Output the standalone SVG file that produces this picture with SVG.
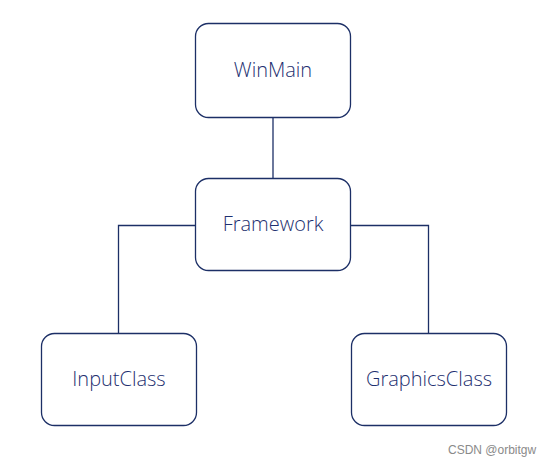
<svg xmlns="http://www.w3.org/2000/svg" width="553" height="467" viewBox="0 0 553 467">
<style>
.box{fill:#fff;stroke:#1c2f66;stroke-width:1.3}
.lbl{font-family:"Open Sans","Noto Sans",sans-serif;font-size:20px;font-weight:300;fill:#1e3070;text-anchor:middle;dominant-baseline:central}
.con{fill:none;stroke:#1c2f66;stroke-width:1.3}
.wm{font-family:"Liberation Sans",sans-serif;font-size:12px;fill:#8a8a8a}
</style>
<rect width="553" height="467" fill="#fff"/>
<g id="connectors">
<line class="con" x1="273" y1="117.5" x2="273" y2="178.5"/>
<polyline class="con" points="195.5,225.5 118.5,225.5 118.5,333.5"/>
<polyline class="con" points="350.5,225.5 428.5,225.5 428.5,333.5"/>
</g>
<g id="WinMain"><rect class="box" x="195.5" y="23.5" width="155" height="94" rx="13"/><text class="lbl" x="273" y="69">WinMain</text></g>
<g id="Framework"><rect class="box" x="195.5" y="178.5" width="155" height="92" rx="13"/><text class="lbl" x="273" y="223">Framework</text></g>
<g id="InputClass"><rect class="box" x="41.5" y="333.5" width="155" height="92" rx="13"/><text class="lbl" x="119" y="378">InputClass</text></g>
<g id="GraphicsClass"><rect class="box" x="351.5" y="333.5" width="155" height="92" rx="13"/><text class="lbl" x="429" y="378">GraphicsClass</text></g>
<text class="wm" x="448" y="454">CSDN @orbitgw</text>
</svg>
